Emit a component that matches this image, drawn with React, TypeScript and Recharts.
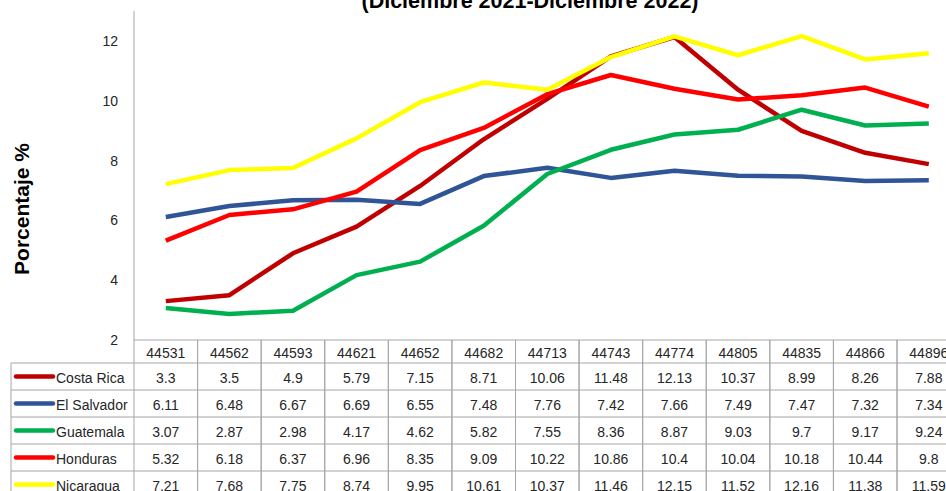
import { LineChart, Line, XAxis, YAxis } from 'recharts'

const categories = ['44531', '44562', '44593', '44621', '44652', '44682', '44713', '44743', '44774', '44805', '44835', '44866', '44896']

const costaRica = [3.3, 3.5, 4.9, 5.79, 7.15, 8.71, 10.06, 11.48, 12.13, 10.37, 8.99, 8.26, 7.88]
const elSalvador = [6.11, 6.48, 6.67, 6.69, 6.55, 7.48, 7.76, 7.42, 7.66, 7.49, 7.47, 7.32, 7.34]
const guatemala = [3.07, 2.87, 2.98, 4.17, 4.62, 5.82, 7.55, 8.36, 8.87, 9.03, 9.7, 9.17, 9.24]
const honduras = [5.32, 6.18, 6.37, 6.96, 8.35, 9.09, 10.22, 10.86, 10.4, 10.04, 10.18, 10.44, 9.8]
const nicaragua = [7.21, 7.68, 7.75, 8.74, 9.95, 10.61, 10.37, 11.46, 12.15, 11.52, 12.16, 11.38, 11.59]

const yTicks = [2, 4, 6, 8, 10, 12]

const SERIES = [
  { key: 'costaRica', name: 'Costa Rica', values: costaRica, color: '#C00000' },
  { key: 'elSalvador', name: 'El Salvador', values: elSalvador, color: '#2F5597' },
  { key: 'guatemala', name: 'Guatemala', values: guatemala, color: '#00B050' },
  { key: 'honduras', name: 'Honduras', values: honduras, color: '#FF0000' },
  { key: 'nicaragua', name: 'Nicaragua', values: nicaragua, color: '#FFFF00' },
]

const data = categories.map((cat, i) => {
  const row: Record<string, string | number> = { cat }
  SERIES.forEach((s) => {
    row[s.key] = s.values[i]
  })
  return row
})

// layout
const CHART_W = 980
const CHART_H = 500
const PLOT_LEFT = 134
const PLOT_RIGHT = 960.6
const PLOT_TOP = 11
const PLOT_BOTTOM = 340
const COL_W = (PLOT_RIGHT - PLOT_LEFT) / categories.length
const HEADER_H = 23
const ROW_H = 27
const LEGEND_LEFT = 11
const BORDER = '#a6a6a6'
const FONT = '"Liberation Sans", Arial, sans-serif'

function TableTick(props: any) {
  const { x, payload } = props
  const idx = payload.index
  const left = x - COL_W / 2
  const right = x + COL_W / 2
  const top = PLOT_BOTTOM
  const bottom = CHART_H
  const rowLines = SERIES.map((_, i) => top + HEADER_H + i * ROW_H)
  rowLines.push(top + HEADER_H + SERIES.length * ROW_H)

  return (
    <g>
      <line x1={left} y1={top} x2={left} y2={bottom} stroke={BORDER} />
      <line x1={right} y1={top} x2={right} y2={bottom} stroke={BORDER} />
      {rowLines.map((ly) => (
        <line key={ly} x1={left} y1={ly} x2={right} y2={ly} stroke={BORDER} />
      ))}
      <text x={x} y={top + HEADER_H / 2 + 1} textAnchor="middle" dominantBaseline="central" fontSize={14} fontFamily={FONT} fill="#262626">
        {payload.value}
      </text>
      {SERIES.map((s, i) => (
        <text key={s.key} x={x} y={top + HEADER_H + i * ROW_H + ROW_H / 2 + 1} textAnchor="middle" dominantBaseline="central" fontSize={14} fontFamily={FONT} fill="#262626">
          {String(s.values[idx])}
        </text>
      ))}
      {idx === 0 && (
        <g>
          <line x1={LEGEND_LEFT} y1={top + HEADER_H} x2={LEGEND_LEFT} y2={bottom} stroke={BORDER} />
          {rowLines.map((ly) => (
            <line key={'l' + ly} x1={LEGEND_LEFT} y1={ly} x2={left} y2={ly} stroke={BORDER} />
          ))}
          {SERIES.map((s, i) => {
            const cy = top + HEADER_H + i * ROW_H + ROW_H / 2
            return (
              <g key={'lg' + s.key}>
                <line x1={16} y1={cy} x2={53} y2={cy} stroke={s.color} strokeWidth={4.5} strokeLinecap="round" />
                <text x={56} y={cy + 1} dominantBaseline="central" fontSize={14} fontFamily={FONT} fill="#262626">
                  {s.name}
                </text>
              </g>
            )
          })}
        </g>
      )}
    </g>
  )
}

export default function App() {
  return (
    <div style={{ position: 'fixed', left: 0, top: 0, width: 946, height: 491, overflow: 'hidden', background: '#fff' }}>
      <LineChart
        width={CHART_W}
        height={CHART_H}
        data={data}
        margin={{ top: PLOT_TOP, right: CHART_W - PLOT_RIGHT, bottom: 0, left: 0 }}
      >
        <XAxis
          dataKey="cat"
          scale="band"
          interval={0}
          height={CHART_H - PLOT_BOTTOM}
          tickLine={false}
          axisLine={{ stroke: BORDER }}
          tick={<TableTick />}
        />
        <YAxis
          type="number"
          domain={[2, 13]}
          ticks={yTicks}
          width={PLOT_LEFT}
          tickLine={false}
          tickSize={0}
          tickMargin={16}
          axisLine={{ stroke: BORDER }}
          tick={{ fontSize: 14, fontFamily: FONT, fill: '#262626' }}
        />
        {SERIES.map((s) => (
          <Line
            key={s.key}
            dataKey={s.key}
            name={s.name}
            type="linear"
            stroke={s.color}
            strokeWidth={4.5}
            strokeLinejoin="round"
            dot={false}
            activeDot={false}
            isAnimationActive={false}
          />
        ))}
      </LineChart>
      <svg width={946} height={491} style={{ position: 'absolute', left: 0, top: 0, pointerEvents: 'none' }}>
        <text x={530} y={8} textAnchor="middle" fontSize={21.5} fontWeight="bold" fontFamily={FONT} fill="#000">
          (Diciembre 2021-Diciembre 2022)
        </text>
        <text
          x={0}
          y={0}
          transform="translate(29 209) rotate(-90)"
          textAnchor="middle"
          fontSize={21}
          fontWeight="bold"
          fontFamily={FONT}
          fill="#000"
        >
          Porcentaje %
        </text>
      </svg>
    </div>
  )
}
